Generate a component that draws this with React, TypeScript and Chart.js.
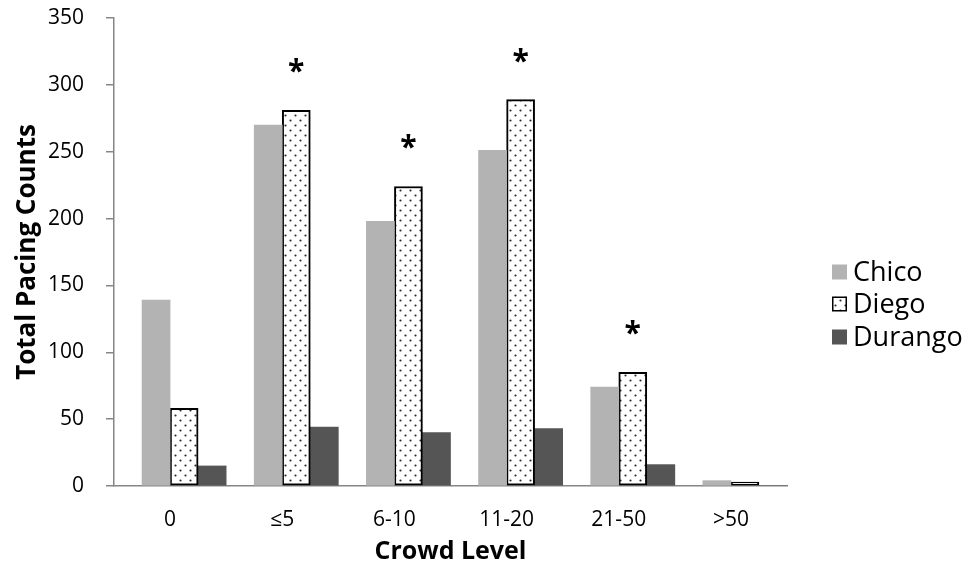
import React, { useEffect, useRef } from "react";
import { Chart, registerables } from "chart.js";
Chart.register(...registerables);

const categories = ["0", "≤5", "6-10", "11-20", "21-50", ">50"];
const chico = [139, 270, 198, 251, 74, 4];
const diego = [58, 281, 224, 289, 85, 3];
const durango = [15, 44, 40, 43, 16, 0];
const significance = ["", "*", "*", "*", "*", ""];
const seriesNames = ["Chico", "Diego", "Durango"];
const yMin = 0;
const yMax = 350;
const yStep = 50;

const FONT = "'Open Sans', sans-serif";
const CHICO_COLOR = "#b3b3b3";
const DURANGO_COLOR = "#555555";
const AXIS_COLOR = "#868686";

function makeDots(ctx: CanvasRenderingContext2D): CanvasPattern | string {
  const c = document.createElement("canvas");
  c.width = 10;
  c.height = 10;
  const g = c.getContext("2d");
  if (!g) return "#fff";
  g.fillStyle = "#ffffff";
  g.fillRect(0, 0, 10, 10);
  g.fillStyle = "#2a2a2a";
  g.beginPath();
  g.arc(2.5, 2.5, 1.1, 0, Math.PI * 2);
  g.arc(7.5, 7.5, 1.1, 0, Math.PI * 2);
  g.fill();
  return ctx.createPattern(c, "repeat") || "#fff";
}

export default function App() {
  const ref = useRef<HTMLCanvasElement | null>(null);

  useEffect(() => {
    const canvas = ref.current;
    if (!canvas) return;
    const ctx = canvas.getContext("2d");
    if (!ctx) return;
    const dots = makeDots(ctx);

    const asteriskPlugin = {
      id: "asterisks",
      afterDatasetsDraw(chart: any) {
        const meta = chart.getDatasetMeta(2);
        const c = chart.ctx;
        c.save();
        c.font = `bold 30px ${FONT}`;
        c.fillStyle = "#000";
        c.textAlign = "center";
        c.textBaseline = "alphabetic";
        significance.forEach((s, i) => {
          if (!s) return;
          const bar = meta.data[i];
          if (!bar) return;
          c.fillText(s, bar.x, bar.y - 46 + 17);
        });
        c.restore();
      },
    };

    const legendPlugin = {
      id: "customLegend",
      afterDraw(chart: any) {
        const c = chart.ctx;
        const ys = [264, 296, 329];
        const fills: any[] = [CHICO_COLOR, dots, DURANGO_COLOR];
        c.save();
        seriesNames.forEach((name, i) => {
          const y = ys[i];
          const x = 824;
          const s = 15;
          c.fillStyle = fills[i];
          c.fillRect(x, y - s / 2, s, s);
          if (i === 1) {
            c.strokeStyle = "#000";
            c.lineWidth = 1.5;
            c.strokeRect(x + 0.75, y - s / 2 + 0.75, s - 1.5, s - 1.5);
          }
          c.fillStyle = "#000";
          c.font = `27px ${FONT}`;
          c.textAlign = "left";
          c.textBaseline = "middle";
          c.fillText(name, 845, y + 1);
        });
        c.restore();
      },
    };

    const chart = new Chart(ctx, {
      type: "bar",
      data: {
        labels: categories,
        datasets: [
          { label: "", data: categories.map(() => null), backgroundColor: "rgba(0,0,0,0)" },
          { label: seriesNames[0], data: chico, backgroundColor: CHICO_COLOR },
          {
            label: seriesNames[1],
            data: diego,
            backgroundColor: dots as any,
            borderColor: "#000",
            borderWidth: 2,
            borderSkipped: false,
          },
          { label: seriesNames[2], data: durango, backgroundColor: DURANGO_COLOR },
        ],
      },
      options: {
        animation: false,
        responsive: true,
        maintainAspectRatio: false,
        datasets: { bar: { categoryPercentage: 1, barPercentage: 1 } },
        layout: { padding: { top: 10, right: 176, left: 0, bottom: 0 } },
        plugins: {
          legend: { display: false },
          tooltip: { enabled: false },
        },
        scales: {
          x: {
            grid: { display: false, drawTicks: false },
            border: { display: true, color: AXIS_COLOR, width: 1.5 },
            ticks: { color: "#000", font: { family: FONT, size: 21 }, padding: 21 },
            title: {
              display: true,
              text: "Crowd Level",
              color: "#000",
              font: { family: FONT, size: 25, weight: "bold" },
              padding: { top: 0, bottom: 3 },
            },
            afterFit(scale: any) {
              scale.height = 84;
              scale.paddingLeft = 0;
              scale.paddingRight = 0;
            },
          },
          y: {
            min: yMin,
            max: yMax,
            grid: { display: true, drawOnChartArea: false, drawTicks: true, tickLength: 8, color: AXIS_COLOR, lineWidth: 1.5 },
            border: { display: true, color: AXIS_COLOR, width: 1.5 },
            ticks: { stepSize: yStep, color: "#000", font: { family: FONT, size: 21 }, padding: 22 },
            title: {
              display: true,
              text: "Total Pacing Counts",
              color: "#000",
              font: { family: FONT, size: 26, weight: "bold" },
              padding: { top: 4, bottom: 0 },
            },
            afterFit(scale: any) {
              scale.width = 106;
              scale.paddingTop = 0;
              scale.paddingBottom = 0;
            },
          },
        },
      },
      plugins: [asteriskPlugin, legendPlugin],
    });
    return () => chart.destroy();
  }, []);

  return (
    <div style={{ position: "relative", width: "100%", height: 562 }}>
      <canvas ref={ref} />
    </div>
  );
}
